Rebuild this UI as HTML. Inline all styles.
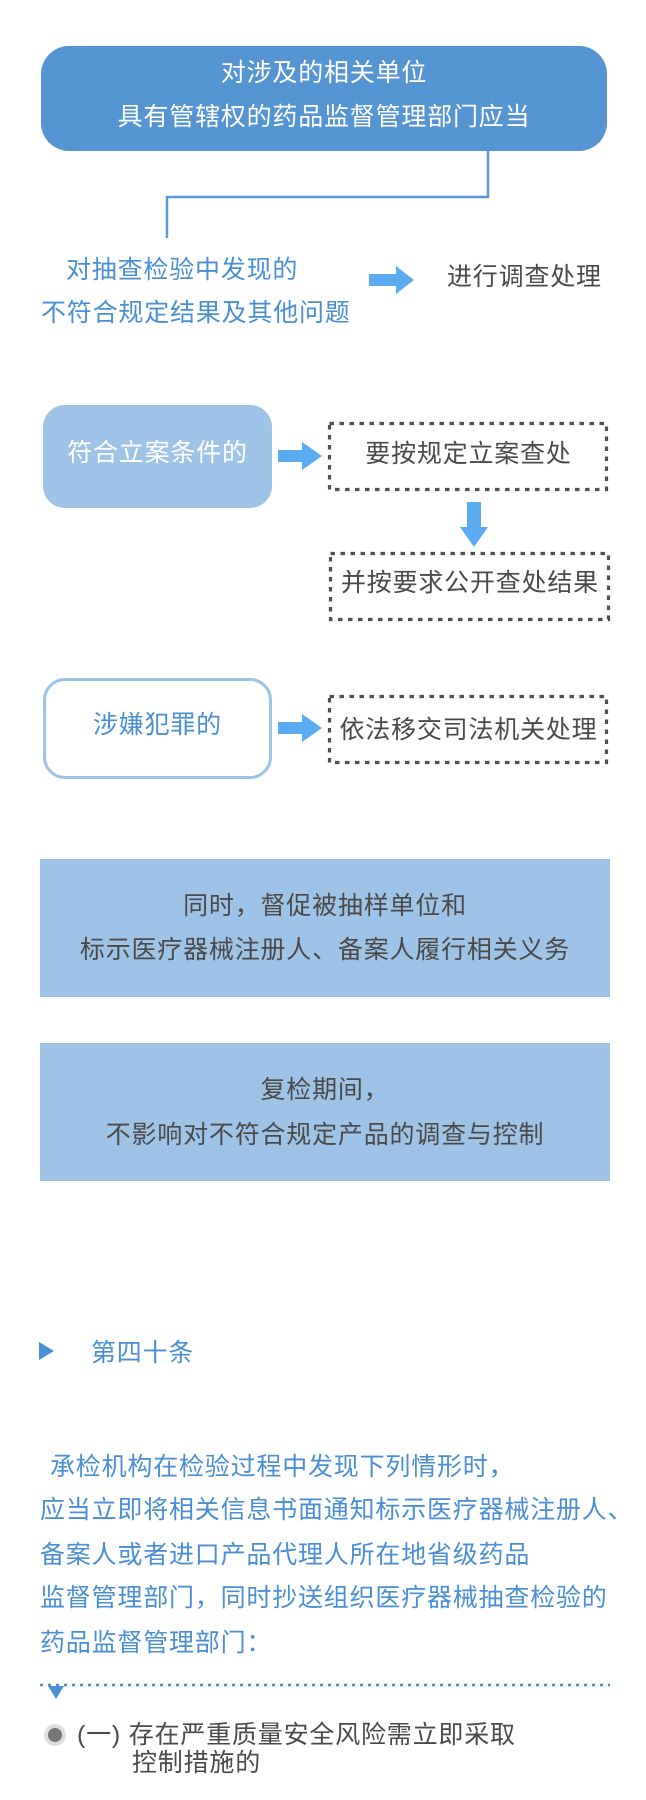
<!DOCTYPE html>
<html><head><meta charset="utf-8"><style>
*{margin:0;padding:0;box-sizing:border-box}
body{width:646px;height:1800px;background:#fff;position:relative;overflow:hidden;font-family:"Liberation Sans","Noto Sans CJK SC",sans-serif}
.t{position:absolute;white-space:nowrap;font-size:25px;letter-spacing:0.8px;line-height:30px}
.c{text-align:center}
.b{color:#4a8ed6}
.g{color:#4a4a4a}
.w{color:#fff}
</style></head><body>
<div style="position:absolute;left:41px;top:46px;width:566px;height:105px;background:#5595d2;border-radius:28px"></div>
<div style="position:absolute;left:43px;top:405px;width:229px;height:103px;background:#9dc3e6;border-radius:22px"></div>
<div style="position:absolute;left:43px;top:678px;width:229px;height:101px;border:3px solid #9dc3e6;border-radius:22px"></div>
<div style="position:absolute;left:40px;top:859px;width:570px;height:138px;background:#9dc3e6"></div>
<div style="position:absolute;left:40px;top:1043px;width:570px;height:138px;background:#9dc3e6"></div>

<svg width="646" height="1800" style="position:absolute;left:0;top:0">
<polyline points="488,151 488,197 167,197 167,238" fill="none" stroke="#5b9bd5" stroke-width="2.5"/>
<polygon points="369,274 396,274 396,266 414,280 396,294 396,286 369,286" fill="#5aabf0"/>
<polygon points="278,450 302,450 302,442 322,456 302,470 302,462 278,462" fill="#5aabf0"/>
<polygon points="278,722 302,722 302,714 322,728 302,742 302,734 278,734" fill="#5aabf0"/>
<polygon points="467,502 481,502 481,527 488,527 474,547 460,527 467,527" fill="#5aabf0"/>
<g fill="none" stroke="#505050" stroke-width="3.2" stroke-dasharray="4.5 5.5">
<rect x="329.5" y="423.5" width="277" height="66"/>
<rect x="330.5" y="553.5" width="278" height="66"/>
<rect x="329.5" y="696.5" width="277" height="66"/>
</g>
<polygon points="39,1342 54,1351 39,1360" fill="#4a8ed6"/>
<line x1="40" y1="1685" x2="610" y2="1685" stroke="#4a8ed6" stroke-width="2.5" stroke-dasharray="3 5"/>
<polygon points="48,1686 64,1686 56,1699" fill="#4a8ed6"/>
<circle cx="55" cy="1735" r="11" fill="#ddd"/>
<circle cx="55" cy="1735" r="7" fill="#777"/>
</svg>

<div class="t c w" style="left:41px;top:58px;width:566px">对涉及的相关单位</div>
<div class="t c w" style="left:41px;top:102px;width:566px">具有管辖权的药品监督管理部门应当</div>
<div class="t b" style="left:66px;top:255px">对抽查检验中发现的</div>
<div class="t b" style="left:41px;top:298px">不符合规定结果及其他问题</div>
<div class="t g" style="left:447px;top:262px">进行调查处理</div>

<div class="t c w" style="left:43px;top:438px;width:229px">符合立案条件的</div>
<div class="t c g" style="left:330px;top:439px;width:277px">要按规定立案查处</div>
<div class="t c g" style="left:331px;top:568px;width:278px">并按要求公开查处结果</div>
<div class="t c b" style="left:43px;top:710px;width:229px">涉嫌犯罪的</div>
<div class="t c g" style="left:330px;top:715px;width:277px">依法移交司法机关处理</div>

<div class="t c g" style="left:40px;top:891px;width:570px">同时，督促被抽样单位和</div>
<div class="t c g" style="left:40px;top:935px;width:570px">标示医疗器械注册人、备案人履行相关义务</div>
<div class="t c g" style="left:40px;top:1075px;width:570px">复检期间，</div>
<div class="t c g" style="left:40px;top:1120px;width:570px">不影响对不符合规定产品的调查与控制</div>

<div class="t b" style="left:91px;top:1338px">第四十条</div>
<div class="t b" style="left:50px;top:1452px">承检机构在检验过程中发现下列情形时，</div>
<div class="t b" style="left:40px;top:1495px">应当立即将相关信息书面通知标示医疗器械注册人、</div>
<div class="t b" style="left:40px;top:1540px">备案人或者进口产品代理人所在地省级药品</div>
<div class="t b" style="left:40px;top:1583px">监督管理部门，同时抄送组织医疗器械抽查检验的</div>
<div class="t b" style="left:40px;top:1628px">药品监督管理部门：</div>
<div class="t g" style="left:77px;top:1720px">(一) 存在严重质量安全风险需立即采取</div>
<div class="t g" style="left:132px;top:1748px">控制措施的</div>
</body></html>
